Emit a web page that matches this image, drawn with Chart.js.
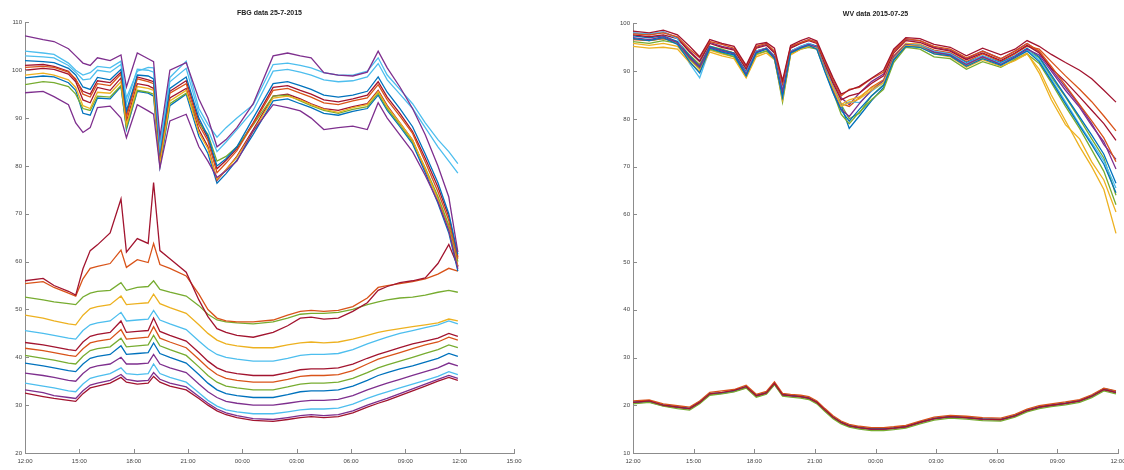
<!DOCTYPE html>
<html>
<head>
<meta charset="utf-8">
<title>FBG / WV data 2015-07-25</title>
<script src="https://cdn.jsdelivr.net/npm/chart.js@4.4.1/dist/chart.umd.min.js"></script>
<style>
  html, body { margin: 0; padding: 0; background: #fff; }
  #wrap { position: relative; width: 1124px; height: 470px; overflow: hidden; background: #fff; }
  .panel { position: absolute; top: 0; height: 470px; }
  #fbgPanel { left: 0; width: 560px; }
  #wvPanel { left: 560px; width: 564px; }
  canvas { display: block; }
</style>
</head>
<body>
<div id="wrap">
  <div class="panel" id="fbgPanel"><canvas id="fbg" width="560" height="470"></canvas></div>
  <div class="panel" id="wvPanel"><canvas id="wv" width="564" height="470"></canvas></div>
</div>
<script>
// ---------- FBG sensors: hours after 12:00 on 25-7-2015 ----------
const fbgHours = [0, 1, 1.6, 2.4, 2.8, 3.2, 3.6, 4.0, 4.7, 5.3, 5.6, 6.2, 6.8, 7.1, 7.45, 8.0, 8.9, 9.6,
  10.1, 10.6, 11.1, 11.7, 12.6, 13.7, 14.5, 15.2, 15.8, 16.5, 17.3, 18.1, 18.9, 19.5, 20.0, 20.7, 21.4, 22.1,
  22.8, 23.4, 23.9];
const fbgTimeLabels = ['12:00', '15:00', '18:00', '21:00', '00:00', '03:00', '06:00', '09:00', '12:00', '15:00'];
const fbgValueLabels = ['20', '30', '40', '50', '60', '70', '80', '90', '100', '110'];

// upper group of FBG channels
const fbgU1 = [107.2, 106.4, 106.0, 104.5, 103.0, 101.5, 101.0, 102.6, 102.0, 103.2, 96.5, 103.6, 102.4, 101.8, 86.0, 100.0, 101.6, 94.0, 90.0, 84.0, 85.5, 88.0, 93.0, 103.0, 103.6, 103.0, 102.6, 99.5, 99.0, 98.8, 99.6, 104.0, 100.5, 96.5, 92.0, 86.5, 80.0, 73.5, 62.0];
const fbgU2 = [95.3, 95.6, 94.5, 92.8, 89.0, 87.0, 88.0, 92.2, 92.5, 90.0, 85.9, 92.8, 91.5, 90.8, 79.6, 89.4, 90.8, 84.0, 81.0, 77.6, 79.0, 81.0, 87.3, 92.8, 92.2, 91.5, 90.0, 87.6, 88.0, 88.3, 87.6, 93.2, 90.0, 86.5, 83.0, 78.0, 72.5, 66.5, 58.5];
const fbgU3 = [104.0, 103.6, 103.3, 101.5, 100.0, 99.0, 99.5, 100.8, 100.5, 101.9, 94.2, 99.8, 100.6, 100.5, 83.8, 98.5, 101.9, 92.0, 88.7, 86.0, 88.0, 90.0, 92.8, 101.2, 101.5, 101.0, 100.5, 99.5, 99.0, 99.0, 99.8, 102.6, 99.0, 96.0, 93.0, 89.0, 85.5, 83.0, 80.5];
const fbgU4 = [102.0, 101.8, 101.6, 100.4, 99.0, 96.5, 96.0, 98.5, 98.0, 100.2, 91.5, 99.0, 98.8, 98.2, 83.0, 96.2, 98.6, 90.0, 86.2, 80.0, 81.5, 84.0, 90.0, 97.2, 97.6, 96.8, 96.0, 94.8, 94.4, 94.8, 95.6, 98.6, 95.4, 92.0, 88.2, 82.5, 76.5, 70.0, 61.5];
const fbgU5 = [100.6, 100.8, 100.6, 99.6, 98.2, 95.0, 94.4, 97.2, 96.8, 99.2, 90.2, 98.2, 97.6, 97.2, 82.0, 95.2, 97.2, 88.6, 85.2, 78.6, 80.6, 83.2, 88.8, 95.8, 96.2, 95.2, 94.4, 93.2, 92.8, 93.6, 94.2, 97.0, 93.8, 90.4, 86.8, 80.8, 74.6, 68.6, 60.6];
const fbgU6 = [99.0, 99.4, 99.0, 98.0, 96.4, 92.6, 92.0, 95.4, 95.2, 97.6, 88.6, 96.6, 96.2, 95.8, 80.8, 93.6, 95.8, 87.0, 83.6, 77.2, 79.2, 81.8, 87.2, 94.2, 94.6, 93.8, 92.8, 91.8, 91.2, 92.2, 92.8, 95.6, 92.4, 89.0, 85.4, 79.4, 73.0, 66.8, 59.0];
const fbgU7 = [97.0, 97.6, 97.4, 96.6, 95.0, 92.0, 91.6, 94.6, 94.4, 96.8, 88.0, 95.8, 95.4, 95.0, 80.4, 93.0, 95.2, 89.0, 86.6, 81.0, 82.0, 84.0, 88.6, 94.6, 94.8, 93.6, 92.6, 91.6, 91.0, 91.8, 92.4, 95.2, 92.0, 88.6, 85.0, 79.6, 73.6, 67.6, 60.0];
const fbgU8 = [100.0, 100.4, 100.2, 99.2, 97.6, 93.8, 93.2, 96.4, 95.8, 98.4, 89.2, 97.2, 96.8, 96.2, 81.2, 94.2, 96.2, 87.6, 84.0, 77.0, 79.2, 82.0, 87.6, 94.6, 95.0, 94.0, 93.0, 92.0, 91.6, 92.4, 93.0, 95.8, 92.6, 89.0, 85.4, 79.2, 73.2, 67.0, 59.0];
const fbgU9 = [103.0, 102.8, 102.6, 101.0, 99.6, 98.0, 98.2, 100.0, 99.6, 101.2, 93.0, 100.2, 100.0, 99.6, 84.6, 97.6, 100.4, 91.0, 87.6, 83.0, 85.0, 87.6, 91.6, 99.8, 100.2, 99.6, 99.0, 98.0, 97.6, 97.8, 98.6, 101.4, 98.0, 95.0, 92.0, 88.0, 84.0, 81.0, 78.5];
const fbgU10 = [101.0, 101.2, 100.8, 99.8, 98.0, 95.6, 95.0, 97.8, 97.4, 99.6, 90.8, 98.6, 98.0, 97.6, 82.6, 95.6, 97.8, 89.4, 85.8, 79.4, 81.2, 83.6, 89.0, 96.4, 96.8, 95.8, 95.0, 93.8, 93.4, 94.0, 94.8, 97.6, 94.4, 91.0, 87.2, 81.6, 75.6, 69.4, 61.0];
const fbgU11 = [98.4, 98.8, 98.6, 97.4, 95.8, 91.0, 90.6, 94.2, 94.0, 96.6, 87.6, 95.6, 95.2, 94.6, 79.8, 92.6, 95.0, 86.2, 82.6, 76.4, 78.4, 81.2, 86.6, 93.6, 94.0, 93.0, 92.2, 91.0, 90.6, 91.4, 92.0, 94.8, 91.6, 88.2, 84.6, 78.6, 72.2, 66.0, 58.0];

// lower group of FBG channels
const fbgL1 = [56.0, 56.5, 55.0, 53.8, 53.0, 58.5, 62.3, 63.5, 66.0, 73.1, 62.0, 64.8, 63.8, 76.5, 62.3, 60.6, 57.8, 52.0, 48.5, 46.0, 45.2, 44.6, 44.2, 45.2, 46.6, 48.2, 48.4, 48.0, 48.2, 49.6, 51.4, 54.0, 54.8, 55.6, 56.0, 56.6, 59.6, 63.6, 59.0];
const fbgL2 = [55.4, 55.8, 54.6, 53.4, 52.8, 56.4, 58.6, 59.0, 59.6, 62.4, 58.8, 60.4, 59.8, 63.8, 59.4, 58.6, 57.0, 53.2, 50.0, 48.2, 47.6, 47.4, 47.4, 47.8, 48.8, 49.6, 49.8, 49.6, 49.8, 50.6, 52.4, 54.6, 55.0, 55.4, 55.8, 56.4, 57.4, 58.6, 58.0];
const fbgL3 = [52.6, 52.0, 51.6, 51.2, 51.0, 52.6, 53.4, 53.8, 54.0, 55.6, 54.0, 54.6, 54.8, 56.0, 54.2, 53.6, 52.8, 50.8, 49.0, 47.8, 47.4, 47.2, 47.0, 47.4, 48.2, 49.0, 49.2, 49.2, 49.4, 50.0, 51.0, 51.6, 52.0, 52.4, 52.6, 53.0, 53.6, 54.0, 53.6];
const fbgL4 = [48.8, 48.2, 47.6, 47.0, 46.8, 48.8, 50.2, 50.6, 51.0, 52.8, 51.0, 51.2, 51.4, 53.2, 51.2, 50.4, 49.2, 46.8, 45.0, 43.6, 42.8, 42.4, 42.0, 42.0, 42.6, 43.0, 43.2, 43.0, 43.2, 43.8, 44.6, 45.2, 45.6, 46.0, 46.4, 46.8, 47.2, 48.0, 47.6];
const fbgL5 = [45.6, 45.0, 44.6, 44.0, 43.8, 45.6, 46.8, 47.2, 47.6, 49.4, 47.6, 47.8, 48.0, 49.8, 47.8, 47.0, 45.8, 43.4, 41.8, 40.6, 40.0, 39.6, 39.2, 39.2, 39.8, 40.4, 40.6, 40.6, 40.8, 41.6, 42.8, 43.6, 44.2, 45.0, 45.6, 46.2, 46.8, 47.6, 47.0];
const fbgL6 = [43.1, 42.6, 42.2, 41.6, 41.4, 43.2, 44.4, 44.8, 45.2, 47.6, 45.2, 45.4, 45.6, 48.2, 45.4, 44.6, 43.4, 41.0, 39.2, 37.8, 37.0, 36.6, 36.2, 36.2, 36.8, 37.4, 37.6, 37.6, 37.8, 38.6, 39.8, 40.6, 41.2, 42.0, 42.8, 43.4, 44.0, 45.0, 44.4];
const fbgL7 = [41.9, 41.4, 41.0, 40.4, 40.2, 41.8, 43.0, 43.4, 43.8, 45.8, 43.8, 44.0, 44.2, 46.4, 44.0, 43.2, 42.0, 39.6, 37.8, 36.4, 35.6, 35.2, 34.8, 34.8, 35.4, 36.0, 36.2, 36.2, 36.4, 37.2, 38.6, 39.6, 40.2, 41.0, 41.8, 42.6, 43.2, 44.2, 43.6];
const fbgL8 = [40.4, 39.8, 39.4, 38.8, 38.6, 40.2, 41.4, 41.8, 42.2, 44.0, 42.2, 42.4, 42.6, 44.6, 42.4, 41.6, 40.4, 38.0, 36.2, 34.8, 34.0, 33.6, 33.2, 33.2, 33.8, 34.4, 34.6, 34.6, 34.8, 35.6, 36.8, 37.8, 38.4, 39.2, 40.0, 40.8, 41.6, 42.6, 42.0];
const fbgL9 = [38.8, 38.2, 37.8, 37.2, 37.0, 38.6, 39.8, 40.2, 40.6, 42.4, 40.6, 40.8, 41.0, 43.0, 40.8, 40.0, 38.8, 36.4, 34.6, 33.2, 32.4, 32.0, 31.6, 31.6, 32.2, 32.8, 33.0, 33.0, 33.2, 34.0, 35.2, 36.2, 36.8, 37.6, 38.2, 39.0, 39.8, 40.8, 40.2];
const fbgL10 = [36.7, 36.2, 35.8, 35.2, 35.0, 36.6, 37.8, 38.2, 38.6, 40.0, 38.6, 38.6, 38.8, 40.6, 38.6, 37.8, 36.8, 34.4, 32.8, 31.6, 30.8, 30.4, 30.0, 30.0, 30.4, 30.8, 31.0, 31.0, 31.2, 32.0, 33.2, 34.0, 34.6, 35.4, 36.2, 37.0, 37.8, 38.8, 38.2];
const fbgL11 = [34.6, 34.0, 33.6, 33.0, 32.8, 34.4, 35.6, 36.0, 36.6, 37.8, 36.6, 36.4, 36.6, 38.6, 36.6, 35.8, 34.8, 32.6, 31.0, 29.8, 29.0, 28.6, 28.2, 28.2, 28.6, 29.0, 29.2, 29.2, 29.4, 30.2, 31.4, 32.2, 32.8, 33.6, 34.4, 35.2, 36.0, 37.0, 36.4];
const fbgL12 = [33.2, 32.6, 32.0, 31.6, 31.4, 33.0, 34.2, 34.6, 35.2, 36.4, 35.4, 35.0, 35.2, 36.8, 35.4, 34.6, 33.8, 31.8, 30.4, 29.2, 28.4, 27.8, 27.2, 27.0, 27.4, 27.8, 28.0, 27.8, 28.0, 28.8, 30.0, 30.8, 31.4, 32.4, 33.4, 34.4, 35.4, 36.2, 35.6];
const fbgL13 = [32.5, 31.8, 31.4, 31.0, 30.8, 32.4, 33.6, 34.0, 34.6, 35.8, 34.8, 34.4, 34.6, 36.0, 34.8, 34.0, 33.2, 31.4, 30.0, 28.8, 28.0, 27.4, 26.8, 26.6, 27.0, 27.4, 27.6, 27.4, 27.6, 28.4, 29.6, 30.4, 31.0, 32.0, 33.0, 34.0, 35.0, 35.8, 35.2];

// ---------- WV channels: hours after 12:00 on 2015-07-25 ----------
const wvHours = [0, 0.8, 1.5, 2.2, 2.8, 3.3, 3.8, 4.4, 5.0, 5.6, 6.1, 6.6, 7.0, 7.4, 7.8, 8.3, 8.7, 9.1, 9.5, 9.9,
  10.3, 10.7, 11.2, 11.8, 12.4, 12.9, 13.5, 14.2, 14.9, 15.7, 16.5, 17.3, 18.2, 18.9, 19.5, 20.1, 20.7, 21.4,
  22.1, 22.7, 23.3, 23.9];
const wvTimeLabels = ['12:00', '15:00', '18:00', '21:00', '00:00', '03:00', '06:00', '09:00', '12:00'];
const wvValueLabels = ['10', '20', '30', '40', '50', '60', '70', '80', '90', '100'];

// upper group of WV channels
const wvU1 = [98.4, 98.0, 98.6, 97.6, 95.2, 93.0, 96.6, 95.8, 95.2, 91.2, 95.6, 96.0, 94.8, 88.0, 95.4, 96.4, 97.0, 96.3, 92.4, 88.6, 85.2, 86.0, 86.8, 88.5, 90.2, 94.6, 97.0, 96.8, 95.6, 95.0, 93.2, 94.8, 93.4, 94.6, 96.4, 95.2, 93.5, 91.8, 90.2, 88.4, 86.0, 83.5];
const wvU2 = [96.8, 96.4, 97.0, 95.6, 92.0, 89.6, 94.8, 94.0, 93.4, 89.0, 93.8, 94.6, 92.6, 84.5, 93.8, 94.8, 95.4, 94.6, 89.8, 85.4, 81.8, 79.5, 82.0, 84.8, 87.0, 92.4, 95.2, 95.0, 93.6, 93.2, 91.0, 92.6, 91.2, 92.8, 94.2, 92.0, 88.0, 83.2, 78.5, 74.6, 70.5, 64.5];
const wvU3 = [97.8, 97.6, 98.0, 97.2, 94.6, 92.8, 96.2, 95.6, 94.8, 91.0, 95.2, 95.8, 94.2, 87.5, 95.2, 96.0, 96.6, 96.0, 92.0, 88.2, 84.8, 86.2, 86.6, 88.4, 89.8, 94.2, 96.8, 96.4, 95.2, 94.6, 92.8, 94.2, 92.6, 94.2, 95.8, 94.2, 91.0, 87.0, 83.0, 79.6, 76.0, 71.0];
const wvU4 = [95.2, 94.8, 95.0, 94.6, 91.8, 90.0, 94.0, 93.2, 92.6, 88.6, 93.0, 93.8, 92.4, 84.0, 93.4, 94.6, 95.2, 94.8, 90.2, 86.4, 82.6, 83.4, 84.2, 86.0, 87.6, 92.6, 95.4, 95.2, 93.6, 93.0, 90.8, 92.4, 91.0, 92.2, 93.6, 90.4, 85.0, 79.6, 74.2, 70.0, 65.2, 56.0];
const wvU5 = [97.0, 96.6, 97.2, 96.0, 92.8, 90.8, 95.0, 94.2, 93.6, 89.4, 94.0, 94.8, 93.0, 85.8, 94.0, 95.0, 95.6, 95.0, 90.4, 86.0, 82.0, 80.5, 83.2, 86.0, 88.0, 93.0, 95.6, 95.2, 94.0, 93.4, 91.4, 93.0, 91.4, 93.0, 94.6, 93.4, 90.0, 86.0, 82.4, 78.6, 75.2, 69.5];
const wvU6 = [96.2, 95.8, 96.4, 95.8, 92.6, 90.6, 94.6, 93.8, 93.0, 88.8, 93.6, 94.2, 92.8, 83.5, 93.6, 94.6, 95.0, 94.6, 90.0, 85.6, 81.0, 79.0, 81.4, 84.0, 86.2, 91.8, 95.0, 94.6, 93.0, 92.6, 90.4, 92.0, 90.8, 92.4, 93.6, 91.6, 87.6, 82.6, 78.0, 73.5, 69.0, 62.0];
const wvU7 = [98.0, 97.8, 98.2, 96.8, 91.6, 88.6, 94.6, 94.0, 93.2, 89.6, 94.2, 94.8, 93.2, 86.2, 94.2, 95.2, 95.8, 95.0, 90.6, 86.6, 82.6, 83.6, 83.4, 85.8, 87.6, 92.8, 95.6, 95.4, 94.2, 93.6, 91.6, 93.2, 91.6, 93.0, 94.4, 92.4, 88.4, 83.6, 78.8, 75.0, 71.2, 65.5];
const wvU8 = [97.6, 97.2, 97.6, 96.8, 94.0, 92.0, 95.8, 95.0, 94.4, 90.4, 94.8, 95.4, 93.8, 86.8, 94.8, 95.8, 96.4, 95.8, 91.4, 87.4, 84.0, 84.8, 85.4, 87.4, 89.0, 93.8, 96.4, 96.0, 94.8, 94.2, 92.4, 93.8, 92.2, 93.8, 95.4, 93.8, 90.6, 87.8, 84.6, 81.8, 79.0, 75.5];
const wvU9 = [97.4, 97.0, 97.4, 96.2, 93.2, 91.0, 95.2, 94.4, 93.8, 89.8, 94.2, 94.8, 93.2, 85.0, 94.2, 95.2, 95.8, 95.2, 90.6, 86.4, 82.8, 78.0, 80.6, 83.8, 86.6, 92.2, 95.4, 95.4, 94.0, 93.6, 91.8, 93.2, 91.8, 93.2, 94.8, 93.0, 89.2, 84.8, 80.4, 76.6, 72.6, 66.5];
const wvU10 = [95.8, 95.4, 95.8, 95.2, 92.4, 90.4, 94.4, 93.6, 93.0, 89.0, 93.4, 94.2, 92.6, 85.2, 93.8, 94.8, 95.4, 95.0, 90.4, 86.6, 83.0, 84.0, 84.6, 86.4, 88.0, 93.0, 95.8, 95.6, 94.0, 93.4, 91.2, 92.8, 91.4, 92.6, 93.8, 89.6, 84.0, 78.8, 75.8, 71.0, 67.2, 60.5];
const wvU11 = [96.6, 96.4, 96.8, 96.0, 93.0, 91.2, 95.0, 94.4, 93.8, 89.6, 94.0, 94.6, 93.0, 86.0, 94.2, 95.0, 95.6, 95.2, 90.6, 86.8, 83.2, 82.6, 84.4, 86.6, 88.2, 93.2, 95.8, 95.6, 94.4, 93.8, 92.0, 93.6, 92.0, 93.6, 95.2, 94.6, 92.0, 89.0, 86.2, 83.6, 80.6, 77.5];
const wvU12 = [98.0, 97.6, 98.2, 97.0, 94.2, 92.2, 96.0, 95.2, 94.6, 90.6, 95.0, 95.6, 94.0, 87.2, 95.0, 96.0, 96.6, 96.0, 91.8, 87.8, 84.4, 83.0, 85.4, 87.8, 89.4, 94.2, 96.6, 96.4, 95.0, 94.4, 92.6, 94.2, 92.6, 94.2, 95.8, 94.0, 90.4, 86.6, 82.8, 79.0, 74.6, 71.5];
const wvU13 = [96.8, 96.4, 96.8, 96.2, 93.4, 91.4, 95.2, 94.6, 93.8, 89.8, 94.2, 94.8, 93.2, 84.2, 94.0, 95.0, 95.6, 95.2, 90.8, 86.4, 83.0, 80.0, 81.2, 84.8, 87.2, 92.6, 95.4, 95.0, 93.8, 93.4, 91.2, 92.8, 91.6, 93.0, 94.4, 92.8, 88.8, 84.6, 80.0, 75.8, 71.8, 64.0];

// lower group of WV channels
const wvL1 = [20.6, 20.9, 20.0, 19.6, 19.3, 20.6, 22.4, 22.7, 23.1, 23.9, 22.0, 22.6, 24.6, 22.2, 22.0, 21.8, 21.5, 20.6, 19.0, 17.5, 16.4, 15.7, 15.3, 15.0, 15.0, 15.2, 15.5, 16.4, 17.2, 17.6, 17.4, 17.1, 17.0, 17.8, 18.9, 19.6, 20.0, 20.4, 20.9, 21.9, 23.3, 22.7];
const wvL2 = [20.9, 21.1, 20.3, 19.9, 19.6, 20.9, 22.7, 23.0, 23.3, 24.2, 22.3, 22.9, 24.9, 22.5, 22.3, 22.1, 21.8, 20.9, 19.3, 17.8, 16.7, 16.0, 15.6, 15.3, 15.3, 15.5, 15.8, 16.7, 17.5, 17.9, 17.7, 17.4, 17.3, 18.1, 19.2, 19.9, 20.3, 20.7, 21.2, 22.2, 23.6, 23.0];
const wvL3 = [20.3, 20.6, 19.8, 19.3, 19.0, 20.3, 22.1, 22.4, 22.8, 23.6, 21.7, 22.3, 24.3, 21.9, 21.7, 21.5, 21.2, 20.3, 18.7, 17.2, 16.1, 15.4, 15.0, 14.7, 14.7, 14.9, 15.2, 16.1, 16.9, 17.3, 17.1, 16.8, 16.7, 17.5, 18.6, 19.3, 19.7, 20.1, 20.6, 21.6, 23.0, 22.4];
const wvL4 = [20.7, 20.8, 20.1, 19.7, 19.4, 20.8, 22.5, 22.6, 23.0, 24.0, 22.1, 22.7, 24.7, 22.3, 22.1, 21.9, 21.6, 20.7, 19.1, 17.6, 16.5, 15.8, 15.4, 15.1, 15.1, 15.3, 15.6, 16.5, 17.3, 17.7, 17.5, 17.2, 17.1, 17.9, 19.0, 19.7, 20.1, 20.5, 21.0, 22.0, 23.5, 22.9];
const wvL5 = [20.5, 20.7, 19.9, 19.5, 19.2, 20.5, 22.3, 22.5, 22.9, 23.7, 21.9, 22.5, 24.4, 22.1, 21.9, 21.7, 21.4, 20.5, 18.9, 17.4, 16.3, 15.6, 15.2, 14.9, 14.9, 15.1, 15.4, 16.3, 17.1, 17.5, 17.3, 17.0, 16.9, 17.7, 18.8, 19.5, 19.9, 20.3, 20.8, 21.8, 23.2, 22.6];

// ---------- drawing ----------
const C = { blue: '#0072BD', orange: '#D95319', yellow: '#EDB120', purple: '#7E2F8E',
            green: '#77AC30', cyan: '#4DBEEE', red: '#A2142F' };
const FONT = '"Liberation Sans", Arial, Helvetica, sans-serif';
Chart.defaults.font.family = FONT;

function line(hours, values, color) {
  return {
    data: values.map((v, i) => ({ x: hours[i], y: v })),
    borderColor: color,
    borderWidth: 1.3,
    pointRadius: 0,
    fill: false,
    tension: 0
  };
}

// MATLAB-style tick marks pointing into the plot area
const innerTicks = {
  id: 'innerTicks',
  afterDraw(chart) {
    const { ctx, chartArea, scales } = chart;
    ctx.save();
    ctx.strokeStyle = '#8c8c8c';
    ctx.lineWidth = 1;
    ctx.beginPath();
    scales.x.ticks.forEach(t => {
      const px = Math.round(scales.x.getPixelForValue(t.value)) + 0.5;
      ctx.moveTo(px, chartArea.bottom);
      ctx.lineTo(px, chartArea.bottom - 4);
    });
    scales.y.ticks.forEach(t => {
      const py = Math.round(scales.y.getPixelForValue(t.value)) + 0.5;
      ctx.moveTo(chartArea.left, py);
      ctx.lineTo(chartArea.left + 4, py);
    });
    ctx.stroke();
    ctx.restore();
  }
};

function panel(id, cfg) {
  return new Chart(document.getElementById(id), {
    type: 'line',
    data: { datasets: cfg.datasets },
    options: {
      responsive: false,
      animation: false,
      devicePixelRatio: 1,
      layout: { autoPadding: false, padding: { top: 0, left: 0, bottom: 0, right: cfg.padRight } },
      plugins: {
        legend: { display: false },
        tooltip: { enabled: false },
        title: {
          display: true, text: cfg.title, fullSize: false, color: '#222',
          font: { size: 7, weight: 'bold', family: FONT },
          padding: { top: cfg.titleTop, bottom: 5 }
        }
      },
      scales: {
        x: {
          type: 'linear', min: 0, max: cfg.xMax,
          afterFit: s => { s.height = 17; s.paddingLeft = 0; s.paddingRight = 0; },
          grid: { display: false, drawTicks: false, tickLength: 0 },
          border: { display: true, color: '#8c8c8c', width: 1 },
          ticks: {
            stepSize: 3, autoSkip: false, maxRotation: 0, padding: 5,
            color: '#444', font: { size: 6, family: FONT },
            callback: (v, i) => cfg.xLabels[i]
          }
        },
        y: {
          type: 'linear', min: cfg.yMin, max: cfg.yMax,
          afterFit: s => { s.width = cfg.yWidth; s.paddingTop = 0; s.paddingBottom = 0; },
          grid: { display: false, drawTicks: false, tickLength: 0 },
          border: { display: true, color: '#8c8c8c', width: 1 },
          ticks: {
            stepSize: 10, autoSkip: false, padding: 3,
            color: '#444', font: { size: 6, family: FONT },
            callback: (v, i) => cfg.yLabels[i]
          }
        }
      }
    },
    plugins: [innerTicks]
  });
}

panel('fbg', {
  title: 'FBG data 25-7-2015',
  xMax: 27, yMin: 20, yMax: 110,
  xLabels: fbgTimeLabels, yLabels: fbgValueLabels,
  yWidth: 25, padRight: 46, titleTop: 9,
  datasets: [
    line(fbgHours, fbgU1, C.purple), line(fbgHours, fbgU2, C.purple), line(fbgHours, fbgU3, C.cyan),
    line(fbgHours, fbgU4, C.blue), line(fbgHours, fbgU5, C.orange), line(fbgHours, fbgU6, C.yellow),
    line(fbgHours, fbgU7, C.green), line(fbgHours, fbgU8, C.red), line(fbgHours, fbgU9, C.cyan),
    line(fbgHours, fbgU10, C.red), line(fbgHours, fbgU11, C.blue),
    line(fbgHours, fbgL1, C.red), line(fbgHours, fbgL2, C.orange), line(fbgHours, fbgL3, C.green),
    line(fbgHours, fbgL4, C.yellow), line(fbgHours, fbgL5, C.cyan), line(fbgHours, fbgL6, C.red),
    line(fbgHours, fbgL7, C.orange), line(fbgHours, fbgL8, C.green), line(fbgHours, fbgL9, C.blue),
    line(fbgHours, fbgL10, C.purple), line(fbgHours, fbgL11, C.cyan), line(fbgHours, fbgL12, C.purple),
    line(fbgHours, fbgL13, C.red)
  ]
});

panel('wv', {
  title: 'WV data 2015-07-25',
  xMax: 24, yMin: 10, yMax: 100,
  xLabels: wvTimeLabels, yLabels: wvValueLabels,
  yWidth: 73, padRight: 6, titleTop: 10,
  datasets: [
    line(wvHours, wvU1, C.red), line(wvHours, wvU2, C.blue), line(wvHours, wvU3, C.orange),
    line(wvHours, wvU4, C.yellow), line(wvHours, wvU5, C.purple), line(wvHours, wvU6, C.green),
    line(wvHours, wvU7, C.cyan), line(wvHours, wvU8, C.red), line(wvHours, wvU9, C.blue),
    line(wvHours, wvU10, C.yellow), line(wvHours, wvU11, C.orange), line(wvHours, wvU12, C.purple),
    line(wvHours, wvU13, C.green),
    line(wvHours, wvL1, C.red), line(wvHours, wvL2, C.orange), line(wvHours, wvL3, C.green),
    line(wvHours, wvL4, C.blue), line(wvHours, wvL5, C.purple)
  ]
});
</script>
</body>
</html>
